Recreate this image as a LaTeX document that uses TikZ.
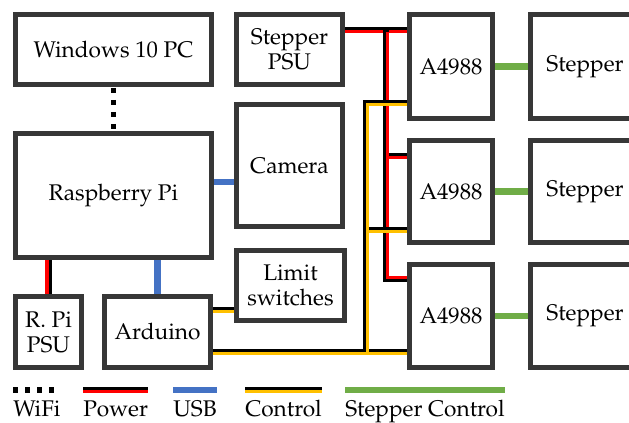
\documentclass[tikz,border=0pt]{standalone}
\usepackage[T1]{fontenc}
\usepackage{mathpazo}
\usepackage{tikz}
\usetikzlibrary{backgrounds}
\usepackage{xcolor}

\definecolor{boxgray}{RGB}{55,55,55}
\definecolor{usbblue}{RGB}{68,114,196}
\definecolor{ctlyellow}{RGB}{255,192,0}
\definecolor{stepgreen}{RGB}{112,173,71}
\definecolor{pwrred}{RGB}{255,0,0}

\tikzset{
    blk/.style={draw=boxgray, line width=3.75pt, fill=white, align=center, inner sep=0pt,
        font=\fontsize{17}{18.75}\selectfont},
    lab/.style={inner sep=0pt, font=\fontsize{17}{18.75}\selectfont},
    wire/.style={black, line width=5pt},
    half/.style={line width=2.5pt},
    lowright/.style={transform canvas={xshift=1.25pt, yshift=-1.25pt}},
    upright/.style={transform canvas={xshift=1.25pt, yshift=1.25pt}},
    lowonly/.style={transform canvas={yshift=-1.25pt}},
    leftonly/.style={transform canvas={xshift=-1.25pt}},
    wifi/.style={black, line width=4.25pt, dash pattern=on 3.75pt off 5.25pt},
    usb/.style={usbblue, line width=5pt},
    stepctl/.style={stepgreen, line width=5pt}
}

\begin{document}
\begin{tikzpicture}[x=0.75pt, y=-0.75pt]
    \useasboundingbox (0,0) rectangle (629,423);

    % Left column
    \node[blk, minimum width=147pt, minimum height=52.5pt] at (113.5,49.5) (win) {Windows 10 PC};
    \node[blk, minimum width=147pt, minimum height=93pt] at (113.5,195.5) (rpi) {Raspberry Pi};
    \node[blk, minimum width=49.5pt, minimum height=53.25pt] at (48.5,332) (rpsu) {R. Pi\\PSU};
    \node[blk, minimum width=79.5pt, minimum height=53.25pt] at (157.5,332) (ard) {Arduino};

    % Middle column
    \node[blk, minimum width=79.5pt, minimum height=52.5pt] at (289.5,49.5) (spsu) {Stepper\\PSU};
    \node[blk, minimum width=79.5pt, minimum height=91.5pt] at (289.5,165.5) (cam) {Camera};
    \node[blk, minimum width=81pt, minimum height=52.5pt] at (290.5,285.5) (lim) {Limit\\switches};

    % Drivers
    \node[blk, minimum width=62.25pt, minimum height=78pt] at (451,66.5) (drvA) {A4988};
    \node[blk, minimum width=62.25pt, minimum height=76.5pt] at (451,191.5) (drvB) {A4988};
    \node[blk, minimum width=62.25pt, minimum height=77.25pt] at (451,316) (drvC) {A4988};

    % Steppers
    \node[blk, minimum width=81.75pt, minimum height=78pt] at (585,66.5) (motA) {Stepper};
    \node[blk, minimum width=81.75pt, minimum height=76.5pt] at (585,191.5) (motB) {Stepper};
    \node[blk, minimum width=81.75pt, minimum height=77.25pt] at (585,316) (motC) {Stepper};

    % Bus points
    \coordinate (pTop) at (386,30);
    \coordinate (pMid) at (386,156);
    \coordinate (pBot) at (386,279);
    \coordinate (cTop) at (366,103);
    \coordinate (cMid) at (366,230);
    \coordinate (cBot) at (366,352);
    \coordinate (cLim) at (224,310);
    \coordinate (cUsb) at (224,182);

    % Legend
    \node[lab, anchor=base west] at (13,417) (lgWifi) {WiFi};
    \node[lab, anchor=base west] at (83,417) (lgPower) {Power};
    \node[lab, anchor=base west] at (173,417) (lgUsb) {USB};
    \node[lab, anchor=base west] at (245,417) (lgCtrl) {Control};
    \node[lab, anchor=base west] at (345,417) (lgStep) {Stepper Control};

    \begin{scope}[on background layer]
    % WiFi and USB
    \draw[wifi, dash phase=8.25pt] (win.south) -- (rpi.north);
    \draw[usb] (rpi.south -| ard.north) -- (ard.north);
    \draw[usb] (rpi.east |- cUsb) -- (cam.west |- cUsb);

    % Power
    \draw[wire] (rpi.south -| rpsu.north) -- (rpsu.north);
    \draw[half, pwrred, leftonly] (rpi.south -| rpsu.north) -- (rpsu.north);
    \draw[wire] (spsu.east |- pTop) -- (drvA.west |- pTop);
    \draw[half, pwrred, lowonly] (spsu.east |- pTop) -- (drvA.west |- pTop);
    \draw[wire] (pMid) -- (drvB.west |- pMid);
    \draw[half, pwrred, lowonly] (pMid) -- (drvB.west |- pMid);
    \draw[wire] (pTop) -- (pBot) -- (drvC.west |- pBot);
    \draw[half, pwrred, lowright] (pTop) -- (pMid);
    \draw[half, pwrred, upright] (pMid) -- (pBot) -- (drvC.west |- pBot);

    % Control
    \draw[wire] (ard.east |- cLim) -- (lim.west |- cLim);
    \draw[half, ctlyellow, lowonly] (ard.east |- cLim) -- (lim.west |- cLim);
    \draw[wire] (ard.east |- cBot) -- (drvC.west |- cBot);
    \draw[half, ctlyellow, lowonly] (ard.east |- cBot) -- (drvC.west |- cBot);
    \draw[wire] (cMid) -- (drvB.west |- cMid);
    \draw[half, ctlyellow, lowonly] (cMid) -- (drvB.west |- cMid);
    \draw[wire] (cBot) -- (cTop) -- (drvA.west |- cTop);
    \draw[half, ctlyellow, lowright] (cBot) -- (cTop) -- (drvA.west |- cTop);

    % Stepper control
    \draw[stepctl] (drvA.east) -- (motA.west);
    \draw[stepctl] (drvB.east) -- (motB.west);
    \draw[stepctl] (drvC.east) -- (motC.west);
    \end{scope}

    % Legend samples
    \draw[wifi] ([yshift=20.25pt]lgWifi.base west) -- ([yshift=20.25pt]lgWifi.base east);
    \draw[wire] ([yshift=20.25pt]lgPower.base west) -- ([yshift=20.25pt]lgPower.base east);
    \draw[half, pwrred, lowonly] ([yshift=20.25pt]lgPower.base west) -- ([yshift=20.25pt]lgPower.base east);
    \draw[usb] ([yshift=20.25pt]lgUsb.base west) -- ([yshift=20.25pt]lgUsb.base east);
    \draw[wire] ([yshift=20.25pt]lgCtrl.base west) -- ([yshift=20.25pt]lgCtrl.base east);
    \draw[half, ctlyellow, lowonly] ([yshift=20.25pt]lgCtrl.base west) -- ([yshift=20.25pt]lgCtrl.base east);
    \draw[stepctl] ([yshift=20.25pt]lgStep.base west) -- ([yshift=20.25pt]lgStep.base east);

\end{tikzpicture}
\end{document}
